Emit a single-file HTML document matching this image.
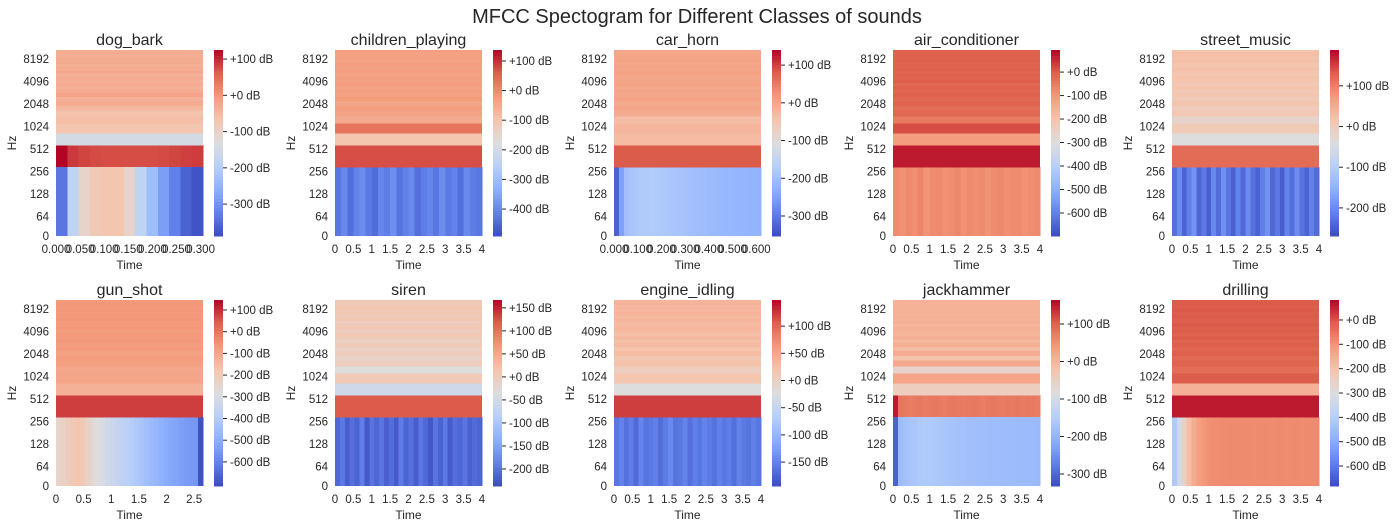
<!DOCTYPE html>
<html><head><meta charset="utf-8"><style>
html,body{margin:0;padding:0;background:#fff;}
svg{display:block;font-family:"Liberation Sans",Arial,sans-serif;}
</style></head><body>
<svg id="fig" width="1395" height="527" viewBox="0 0 1395 527">
<text x="697" y="23" text-anchor="middle" font-size="20" fill="#262626">MFCC Spectogram for Different Classes of sounds</text>
</svg>
<script>
// ---- data ----
const classNames = ["dog_bark","children_playing","car_horn","air_conditioner","street_music","gun_shot","siren","engine_idling","jackhammer","drilling"];
const vMins = [-388,-491,-353,-698,-269,-711,-237,-194,-332,-682];
const vMaxs = [125,137,140,94,188,146,167,148,164,82];
const durations = [0.305,4,0.62,4,4,2.66,4,4,4,4];
const freqTicks = [0,64,128,256,512,1024,2048,4096,8192];
const timeTicks4 = [0,0.5,1,1.5,2,2.5,3,3.5,4];
const timeTicksDog = [0,0.05,0.1,0.15,0.2,0.25,0.3];
const timeTicksHorn = [0,0.1,0.2,0.3,0.4,0.5,0.6];
const timeTicksGun = [0,0.5,1,1.5,2,2.5];
const cbarTicksDog = [100,0,-100,-200,-300];
const cbarTicksKids = [100,0,-100,-200,-300,-400];
const cbarTicksHorn = [100,0,-100,-200,-300];
const cbarTicksAir = [0,-100,-200,-300,-400,-500,-600];
const cbarTicksStreet = [100,0,-100,-200];
const cbarTicksGun = [100,0,-100,-200,-300,-400,-500,-600];
const cbarTicksSiren = [150,100,50,0,-50,-100,-150,-200];
const cbarTicksEngine = [100,50,0,-50,-100,-150];
const cbarTicksJack = [100,0,-100,-200,-300];
const cbarTicksDrill = [0,-100,-200,-300,-400,-500,-600];

const dogRows = [-200,74,-147,-70,-60,-65,-49,-29,-39,-19,-29,-39,-29,-35,-29,-39,-25,-33,-29,-35,-27,-33,-30,-35,-30,-33];
const dogCol0 = [-337,-183,-106,-80,-70,-70,-106,-183,-234,-285,-326,-362,-378];
const dogCol1 = [125,88,80,76,74,74,74,74,74,76,80,84,86];
const kidsRows = [-420,74,-102,30,-50,-35,-28,-42,-22,-34,-28,-38,-24,-32,-28,-36,-25,-30,-34,-27,-30,-35,-28,-31,-34,-29];
const kidsCol0 = [-430,-400,-440,-410,-395,-425,-445,-405,-420,-390,-435,-415,-400,-440,-420,-405,-430,-395,-425,-410,-440,-400,-420,-430];
const hornRows = [-200,81,-33,-25,-35,-10,0,-6,4,-3,2,-5,4,0,-3,2,6,0,4,1,-2,4,0,2,-1,1];
const hornCol0 = [-328,-250,-200,-190,-185,-180,-180,-178,-180,-182,-185,-188,-190,-192,-195,-198,-200,-202,-205,-208,-210,-212,-214,-215,-216,-218,-219,-220,-220,-221];
const airRows = [-80,70,-112,15,-49,-17,-25,-10,-20,-5,-15,-8,-18,-2,-12,-6,-14,-4,-10,-8,-12,-5,-9,-7,-11,-6];
const airCol0 = [-80,-90,-75,-85,-70,-95,-80,-75,-88,-82,-72,-90,-78,-84,-76,-92,-80,-74,-86,-80,-78,-90,-82,-76];
const streetRows = [-220,119,-40,5,-20,10,0,15,5,12,8,18,10,14,20,12,16,22,18,14,20,24,18,22,26,20];
const streetCol0 = [-230,-200,-245,-215,-190,-240,-220,-250,-205,-235,-195,-225,-248,-210,-238,-200,-230,-245,-215,-192,-240,-222,-250,-208,-232,-198,-228,-244,-212,-236];
const gunRows = [-300,78,-128,-94,-100,-80,-75,-85,-70,-78,-65,-72,-68,-75,-62,-70,-66,-60,-72,-64,-68,-62,-70,-65,-60,-66];
const gunCol0 = [-240,-230,-210,-190,-180,-200,-230,-260,-280,-300,-320,-340,-355,-370,-385,-400,-415,-430,-445,-460,-475,-490,-505,-515,-525,-535,-545,-550,-555,-700];
const sirenRows = [-209,119,-55,5,-35,-2,-15,0,-10,5,-8,2,8,-5,10,3,-3,12,6,0,10,4,14,8,2,10];
const sirenCol0 = [-210,-195,-220,-205,-215,-190,-225,-200,-212,-198,-218,-206,-224,-192,-214,-202,-220,-196,-210,-226,-200,-216,-194,-222,-204,-212,-198,-218,-208,-214];
const engineRows = [-160,121,-23,18,5,22,15,28,20,30,24,32,26,30,34,28,32,36,30,34,38,32,35,33,37,34];
const engineCol0 = [-160,-150,-165,-155,-170,-148,-162,-158,-152,-168,-156,-145,-163,-159,-150,-166,-154,-161,-149,-157,-164,-152,-160,-155,-167,-151,-158,-162,-153,-160];
const jackRows = [-183,75,-44,25,-59,20,-20,15,-10,10,-5,12,0,5,8,-2,10,4,6,2,8,5,3,7,4,6];
const jackCol0 = [-307,-185,-175,-170,-165,-160,-158,-160,-162,-165,-168,-170,-172,-175,-175,-178,-178,-180,-180,-182,-182,-183,-184,-185,-185,-186,-186,-187,-187,-188];
const jackCol1 = [149,78,75,72,74,76,73,75,77,74,72,75,76,74,73,75,77,74,72,75,76,74,73,75,74,76,73,75,74,72];
const drillRows = [-86,59,-162,-10,-35,-20,-30,-15,-25,-12,-20,-8,-18,-10,-15,-6,-12,-14,-8,-10,-12,-6,-9,-11,-7,-10];
const drillCol0 = [-415,-330,-250,-190,-150,-120,-105,-95,-90,-88,-86,-85,-85,-84,-84,-85,-86,-85,-84,-85,-86,-84,-85,-86,-84,-85,-86,-85,-84,-85];

const rowSets = [dogRows,kidsRows,hornRows,airRows,streetRows,gunRows,sirenRows,engineRows,jackRows,drillRows];
const col0Sets = [dogCol0,kidsCol0,hornCol0,airCol0,streetCol0,gunCol0,sirenCol0,engineCol0,jackCol0,drillCol0];
const col1Sets = [dogCol1,null,null,null,null,null,null,null,jackCol1,null];
const timeTickSets = [timeTicksDog,timeTicks4,timeTicksHorn,timeTicks4,timeTicks4,timeTicksGun,timeTicks4,timeTicks4,timeTicks4,timeTicks4];
const cbarTickSets = [cbarTicksDog,cbarTicksKids,cbarTicksHorn,cbarTicksAir,cbarTicksStreet,cbarTicksGun,cbarTicksSiren,cbarTicksEngine,cbarTicksJack,cbarTicksDrill];

// ---- layout ----
const NS = "http://www.w3.org/2000/svg";
const svg = document.getElementById('fig');
const W = 147, H = 186;
const rowEdges = [186,117,95,83,73,66,60,55.7,50.7,46.7,42.7,39,36,32.7,29,26,23,20.7,18.4,16.1,13.8,11.5,9.2,6.9,4.6,2.3,0];
const stops = [[59,76,192],[98,130,234],[141,176,254],[184,208,249],[221,221,221],[245,196,173],[244,154,123],[222,96,77],[180,4,38]];
function cmap(t){
  t = Math.max(0,Math.min(1,t)); const s = t*8; const i = Math.min(7,Math.floor(s)); const f = s-i;
  const a = stops[i], b = stops[i+1];
  return 'rgb('+a.map((v,k)=>Math.round(v+(b[k]-v)*f)).join(',')+')';
}
function mk(tag, attrs, parent){
  const e = document.createElementNS(NS, tag);
  for (const k in attrs) e.setAttribute(k, attrs[k]);
  parent.appendChild(e); return e;
}
function yFreq(f){ return f===0 ? H : 99 + 22.5*Math.log2(512/f); }
function fmtTime(v, p){ if (p===0 || p===2) return v.toFixed(3); return String(v); }
const TXT = '#262626';

classNames.forEach((name, p) => {
  const col = p % 5, row = Math.floor(p/5);
  const X0 = 56 + col*279, Y0 = 50 + row*250;
  const vmin = vMins[p], vmax = vMaxs[p];
  const norm = v => (v - vmin)/(vmax - vmin);
  const g = mk('g', {transform:'translate('+X0+','+Y0+')'}, svg);
  
  
  const hm = mk('g', {'shape-rendering':'crispEdges'}, g);
  
  
  const rows = rowSets[p];
  rows.forEach((v, r) => {
    const yb = rowEdges[r], yt = rowEdges[r+1];
    let cols = null;
    if (r===0) cols = col0Sets[p];
    if (r===1 && col1Sets[p]) cols = col1Sets[p];
    if (cols){
      const cw = W/cols.length;
      cols.forEach((cv, c) => {
        const rc = mk('rect', {x:(c*cw).toFixed(2), y:yt, width:(cw+0.4).toFixed(2), height:(yb-yt), fill:cmap(norm(cv))}, hm);
        
        
      });
    } else {
      const rc = mk('rect', {x:0, y:yt, width:W, height:(yb-yt)+0.3, fill:cmap(norm(v))}, hm);
      
      
    }
  });
  const t = mk('text', {x:W/2, y:-5, 'text-anchor':'middle', 'font-size':16, fill:TXT}, g);
  t.textContent = name;
  
  
  freqTicks.forEach(f => {
    const yt = mk('text', {x:-7, y:yFreq(f)+4, 'text-anchor':'end', 'font-size':11.5, fill:TXT}, g);
    yt.textContent = String(f);
    
    
  });
  const yl = mk('text', {x:0, y:0, transform:'translate(-40,'+(H/2)+') rotate(-90)', 'text-anchor':'middle', 'font-size':12, fill:TXT}, g);
  yl.textContent = 'Hz';
  
  
  timeTickSets[p].forEach(tv => {
    const xt = mk('text', {x:tv/durations[p]*W, y:H+17, 'text-anchor':'middle', 'font-size':11.5, fill:TXT}, g);
    xt.textContent = fmtTime(tv, p);
    
    
  });
  const xl = mk('text', {x:W/2, y:H+33, 'text-anchor':'middle', 'font-size':12, fill:TXT}, g);
  xl.textContent = 'Time';
  
  
  const cb = mk('g', {transform:'translate(158,0)'}, g);
  
  
  const N = 60;
  for (let i=0;i<N;i++){
    mk('rect', {x:0, y:(i*H/N).toFixed(2), width:9, height:(H/N+0.5).toFixed(2), fill:cmap(1 - (i+0.5)/N), 'shape-rendering':'crispEdges'}, cb);
  }
  cbarTickSets[p].forEach(tv => {
    const yy = (1 - norm(tv))*H;
    mk('line', {x1:9, x2:13, y1:yy, y2:yy, stroke:TXT, 'stroke-width':1}, cb);
    const lt = mk('text', {x:16, y:yy+4, 'font-size':11.5, fill:TXT}, cb);
    lt.textContent = (tv>=0?'+':'') + tv + ' dB';
    
    
  });
});
</script>
</body></html>
